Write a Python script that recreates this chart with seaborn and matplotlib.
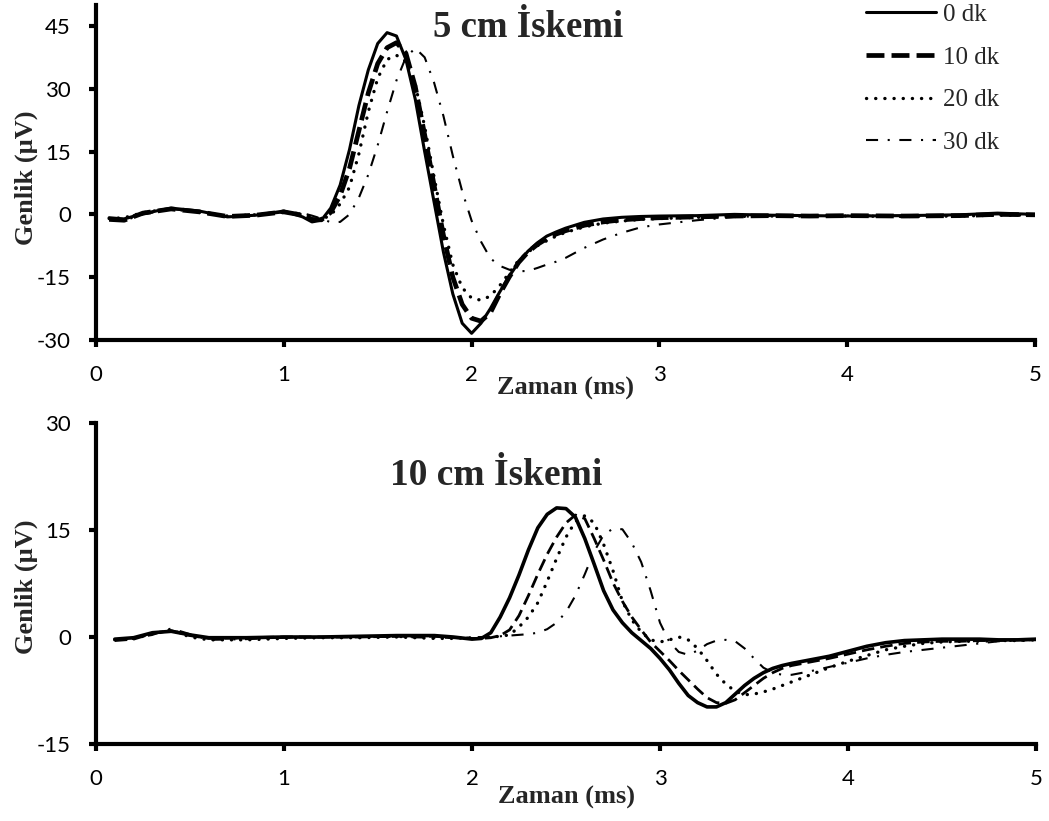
import matplotlib
matplotlib.use("Agg")
import matplotlib.pyplot as plt
import seaborn as sns
import pandas as pd

# ---- 5 cm ischemia: amplitude (µV) vs time (ms) ----
t_top = [0.07, 0.15, 0.25, 0.4, 0.55, 0.7, 0.85, 1.0, 1.1, 1.15, 1.2,
         1.25, 1.3, 1.35, 1.4, 1.45, 1.5, 1.55, 1.6, 1.65, 1.7, 1.75, 1.8, 1.85,
         1.9, 1.95, 2.0, 2.05, 2.1, 2.15, 2.2, 2.25, 2.3, 2.35, 2.4, 2.45, 2.5,
         2.6, 2.7, 2.8, 2.9, 3.0, 3.2, 3.4, 3.6, 3.8, 4.0, 4.3, 4.6, 4.8, 5.0]

top_0dk = [-0.8, -1.1, 0.2, 1.5, 0.8, -0.6, -0.2, 0.8, -0.6, -1.8, -1.4,
           1.5, 7.0, 15.5, 26.0, 34.5, 40.8, 43.4, 42.6, 37.0, 27.5, 15.0, 3.0, -9.0,
           -19.0, -26.0, -28.4, -26.0, -22.5, -18.5, -14.8, -11.5, -8.8, -6.8, -5.2, -4.2, -3.3,
           -1.9, -1.1, -0.7, -0.5, -0.4, -0.3, 0.0, -0.2, -0.3, -0.4, -0.3, -0.1, 0.3, 0.0]

top_10dk = [-1.2, -1.4, 0.3, 1.3, 0.6, -0.5, -0.2, 0.6, -0.2, -1.2, -1.3,
            0.5, 4.5, 11.0, 20.0, 29.0, 36.0, 39.8, 41.0, 38.5, 30.5, 19.0, 7.0, -5.0,
            -15.0, -21.5, -24.8, -25.5, -23.5, -19.0, -15.0, -11.5, -9.0, -7.2, -5.8, -4.7, -3.9,
            -2.6, -1.8, -1.3, -1.0, -0.8, -0.6, -0.4, -0.3, -0.4, -0.3, -0.4, -0.3, 0.0, -0.1]

top_20dk = [-1.0, -0.8, 0.4, 1.4, 0.5, -0.4, -0.1, 0.5, 0.0, -0.8, -1.2,
            -0.2, 2.5, 6.5, 14.5, 24.5, 32.5, 37.0, 38.0, 36.5, 31.0, 21.0, 9.0, -2.5,
            -12.0, -17.5, -20.0, -20.5, -19.5, -17.0, -14.0, -11.0, -9.0, -7.5, -6.3, -5.2, -4.3,
            -3.0, -2.1, -1.6, -1.2, -1.0, -0.7, -0.5, -0.4, -0.4, -0.4, -0.5, -0.4, -0.2, -0.2]

top_30dk = [-1.3, -1.5, 0.0, 1.2, 0.7, -0.6, -0.3, 0.5, 0.3, -0.3, -1.0,
            -1.9, -1.8, 0.0, 4.0, 9.5, 16.5, 24.5, 32.0, 37.5, 39.7, 37.5, 31.5, 23.5,
            14.0, 5.5, -1.5, -6.5, -10.5, -12.3, -13.2, -13.6, -13.5, -12.8, -12.0, -11.3, -10.4,
            -8.0, -6.0, -4.4, -3.1, -2.4, -1.4, -0.6, -0.4, -0.3, -0.3, -0.3, -0.2, 0.0, 0.0]

# ---- 10 cm ischemia ----
t_bot = [0.1, 0.2, 0.3, 0.4, 0.5, 0.6, 0.8, 1.0, 1.2, 1.4, 1.6, 1.8, 1.9, 2.0,
         2.05, 2.1, 2.15, 2.2, 2.25, 2.3, 2.35, 2.4, 2.45, 2.5, 2.55, 2.6, 2.65, 2.7,
         2.75, 2.8, 2.85, 2.9, 2.95, 3.0, 3.05, 3.1, 3.15, 3.2, 3.25, 3.3, 3.35, 3.4,
         3.45, 3.5, 3.55, 3.6, 3.65, 3.7,
         3.8, 3.9, 4.0, 4.1, 4.2, 4.3, 4.4, 4.5, 4.6, 4.7, 4.8, 4.9, 5.0]

bot_0dk = [-0.3, -0.1, 0.6, 0.8, 0.3, -0.1, -0.1, 0.0, 0.0, 0.1, 0.2, 0.2, 0.0, -0.3,
           -0.2, 0.6, 2.8, 5.5, 8.7, 12.2, 15.3, 17.2, 18.1, 18.0, 16.8, 13.8, 10.2, 6.5,
           3.8, 2.0, 0.6, -0.5, -1.6, -3.0, -4.6, -6.5, -8.2, -9.2, -9.8, -9.8, -9.2, -8.0,
           -6.8, -5.8, -5.0, -4.4, -4.0, -3.7,
           -3.2, -2.7, -2.0, -1.3, -0.8, -0.5, -0.4, -0.3, -0.3, -0.3, -0.4, -0.4, -0.3]

bot_10dk = [-0.5, -0.3, 0.5, 0.9, 0.2, -0.2, -0.1, 0.0, 0.0, 0.0, 0.1, 0.1, -0.1, -0.2,
            -0.2, -0.1, 0.2, 1.0, 3.0, 5.8, 8.8, 11.6, 14.0, 16.0, 17.1, 16.6, 13.8, 10.8,
            7.6, 5.0, 2.8, 1.0, -0.7, -2.0, -3.3, -4.7, -6.0, -7.3, -8.5, -9.2, -9.3, -8.8,
            -7.8, -6.8, -5.8, -5.0, -4.4, -4.0,
            -3.5, -3.0, -2.4, -1.8, -1.3, -0.9, -0.7, -0.6, -0.6, -0.5, -0.5, -0.4, -0.4]

bot_20dk = [-0.4, -0.2, 0.4, 1.0, 0.0, -0.4, -0.4, -0.2, -0.1, -0.1, 0.0, -0.2, -0.2, -0.1,
            -0.1, 0.0, 0.1, 0.3, 1.4, 2.8, 4.8, 7.8, 11.0, 14.0, 16.2, 17.0, 16.0, 13.0,
            9.3, 5.0, 2.4, 0.7, -0.4, -0.7, -0.4, 0.0, -0.4, -1.6, -3.3, -5.2, -6.6, -7.6,
            -8.1, -8.0, -7.7, -7.3, -6.8, -6.3,
            -5.3, -4.3, -3.4, -2.6, -1.8, -1.3, -0.9, -0.7, -0.6, -0.6, -0.5, -0.5, -0.4]

bot_30dk = [-0.4, -0.2, 0.3, 1.2, 0.4, -0.4, -0.3, -0.1, 0.0, 0.1, 0.0, -0.1, -0.1, -0.1,
            0.0, 0.0, 0.1, 0.2, 0.3, 0.4, 0.6, 1.1, 2.0, 3.5, 5.8, 8.8, 12.0, 14.3,
            15.2, 15.1, 13.2, 10.5, 6.5, 2.0, -0.7, -2.1, -2.5, -1.9, -1.0, -0.5, -0.4, -0.6,
            -1.6, -3.0, -4.3, -5.0, -5.3, -5.3,
            -4.8, -4.2, -3.6, -3.0, -2.5, -2.1, -1.8, -1.5, -1.2, -0.9, -0.6, -0.5, -0.4]

series_labels = ["0 dk", "10 dk", "20 dk", "30 dk"]
x_ticks = [0, 1, 2, 3, 4, 5]
top_yticks = [-30, -15, 0, 15, 30, 45]
bot_yticks = [-15, 0, 15, 30]

sns.set_theme(style="white")
plt.rcParams["font.family"] = ["Lato", "DejaVu Sans"]

SERIF = "Liberation Serif"

# line styles per series (top panel uses a heavier dashed line)
top_styles = [
    dict(linewidth=2.2, linestyle="-"),
    dict(linewidth=3.4, linestyle=(0, (3.8, 1.5))),
    dict(linewidth=2.4, linestyle=(0, (0.05, 2.7)), dash_capstyle="round"),
    dict(linewidth=1.5, linestyle=(0, (5.8, 4.6, 1.0, 4.6))),
]
bot_styles = [
    dict(linewidth=2.6, linestyle="-"),
    dict(linewidth=2.0, linestyle=(0, (4.5, 2.2))),
    dict(linewidth=2.4, linestyle=(0, (0.05, 2.7)), dash_capstyle="round"),
    dict(linewidth=1.5, linestyle=(0, (5.8, 4.6, 1.0, 4.6))),
]

W, H = 1049, 821
fig = plt.figure(figsize=(W / 100, H / 100), dpi=100)
fig.patch.set_facecolor("white")
ax1 = fig.add_axes([96 / W, 1 - 340 / H, (1035 - 96) / W, (340 - 5) / H])
ax2 = fig.add_axes([96 / W, 1 - 744 / H, (1036 - 96) / W, (744 - 423) / H])

top_df = pd.DataFrame({"t": t_top, "0 dk": top_0dk, "10 dk": top_10dk,
                       "20 dk": top_20dk, "30 dk": top_30dk})
bot_df = pd.DataFrame({"t": t_bot, "0 dk": bot_0dk, "10 dk": bot_10dk,
                       "20 dk": bot_20dk, "30 dk": bot_30dk})

for lab, st in zip(series_labels, top_styles):
    sns.lineplot(data=top_df, x="t", y=lab, ax=ax1, color="black", label=lab,
                 estimator=None, sort=False, legend=False, **st)
for lab, st in zip(series_labels, bot_styles):
    sns.lineplot(data=bot_df, x="t", y=lab, ax=ax2, color="black",
                 estimator=None, sort=False, legend=False, **st)

def style_axis(ax, yticks, ylim):
    ax.set_xlim(0, 5)
    ax.set_ylim(*ylim)
    ax.set_xticks(x_ticks)
    ax.set_yticks(yticks)
    ax.set_xticklabels([str(v) for v in x_ticks])
    ax.set_yticklabels([str(v) for v in yticks])
    for side in ("top", "right"):
        ax.spines[side].set_visible(False)
    for side in ("left", "bottom"):
        ax.spines[side].set_linewidth(3.0)
        ax.spines[side].set_color("black")
    ax.tick_params(axis="both", direction="out", length=5, width=3.0,
                   color="black", labelsize=16, pad=13, labelcolor="black",
                   bottom=True, left=True)
    ax.set_facecolor("white")
    ax.set_xlabel("Zaman (ms)", fontfamily=SERIF, fontweight="bold", fontsize=19)
    ax.set_ylabel("Genlik (µV)", fontfamily=SERIF, fontweight="bold", fontsize=19)

style_axis(ax1, top_yticks, (-30, 50))
style_axis(ax2, bot_yticks, (-15, 30))

ax1.xaxis.set_label_coords(0.5, -0.11)
ax1.yaxis.set_label_coords(-0.062, 0.484)
ax2.xaxis.set_label_coords(0.5, -0.13)
ax2.yaxis.set_label_coords(-0.062, 0.489)

ax1.text(0.46, 0.934, "5 cm İskemi", transform=ax1.transAxes, ha="center",
         va="center", fontfamily=SERIF, fontweight="bold", fontsize=26.5)
ax2.text(0.426, 0.835, "10 cm İskemi", transform=ax2.transAxes, ha="center",
         va="center", fontfamily=SERIF, fontweight="bold", fontsize=27)

handles = ax1.get_lines()[:4]
fig.legend(handles, series_labels, loc="upper left",
           bbox_to_anchor=(853 / W, 1.011), frameon=False, borderpad=0.0,
           handlelength=2.8, handletextpad=0.3, labelspacing=0.81,
           prop={"family": SERIF, "size": 18})

fig.savefig("out.png", dpi=100, facecolor="white")
